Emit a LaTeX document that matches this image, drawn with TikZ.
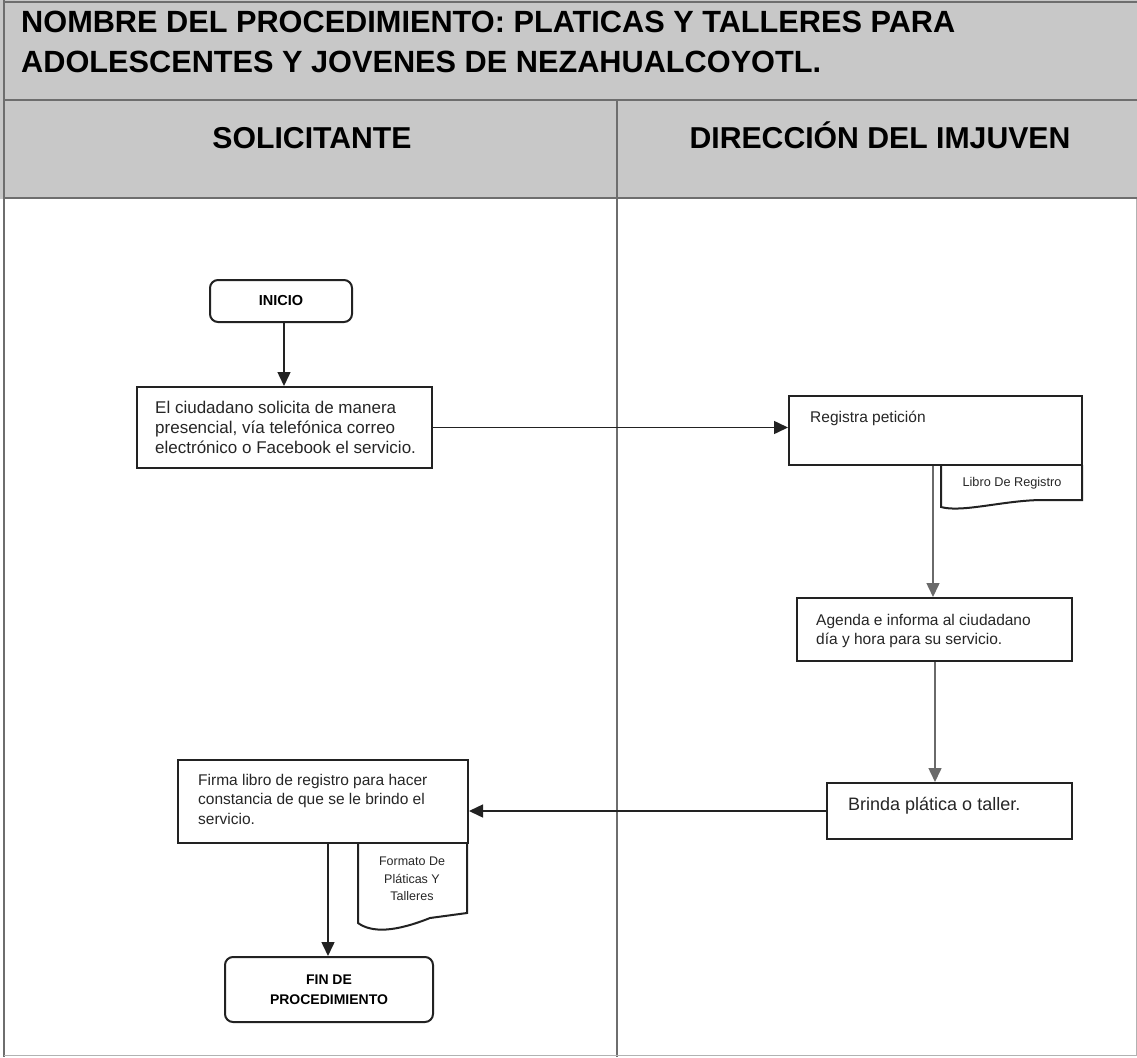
\documentclass[tikz,border=0pt]{standalone}
\usepackage{fontspec}
\setmainfont{Liberation Sans}
\usetikzlibrary{arrows.meta,calc}
\definecolor{hdrgray}{HTML}{C8C8C8}
\definecolor{rulegray}{HTML}{6E6E6E}
\definecolor{inkdark}{HTML}{222222}
\definecolor{flowgray}{HTML}{6A6A6A}
\tikzset{
  procbox/.style={draw=inkdark, line width=2pt, fill=white, inner sep=0pt},
  termbox/.style={procbox, rounded corners=8pt},
  doctext/.style={font=\fontsize{12.7}{17}\selectfont, align=center, inner sep=0pt, text=black!85},
  bodytext/.style={font=\fontsize{15.5}{19.5}\selectfont, align=left, inner sep=0pt, anchor=north west, text=black!85},
  flow/.style={draw=inkdark, line width=1.5pt, -{Triangle[length=14pt,width=13pt]}},
  flowlight/.style={flow, draw=flowgray},
  docline/.style={draw=inkdark, line width=2pt},
}
\begin{document}
\begin{tikzpicture}[x=1pt,y=-1pt]
\useasboundingbox (0,0) rectangle (1137,1057);

% header band and lane titles
\fill[hdrgray] (0,0) rectangle (1137,199);
\draw[rulegray, line width=1.2pt] (4,2) -- (1137,2);
\draw[rulegray, line width=2pt] (4,100) -- (1137,100);
\draw[rulegray, line width=2pt] (4,198) -- (1137,198);
\draw[rulegray, line width=1.5pt] (4,0) -- (4,1057);
\draw[rulegray, line width=1.5pt] (617,100) -- (617,1057);
\draw[black!30, line width=1pt] (4,1055) -- (1137,1055);
\draw[black!30, line width=1pt] (1136,199) -- (1136,1055);

\node[font=\fontsize{30.7}{40}\bfseries, anchor=base west, inner sep=0pt] (titleA) at (21,33)
  {NOMBRE DEL PROCEDIMIENTO: PLATICAS Y TALLERES PARA};
\node[font=\fontsize{30.7}{40}\bfseries, anchor=base west, inner sep=0pt] (titleB) at (21,73)
  {ADOLESCENTES Y JOVENES DE NEZAHUALCOYOTL.};
\node[font=\fontsize{30.2}{40}\bfseries, anchor=base, inner sep=0pt] (laneA) at (312,148) {SOLICITANTE};
\node[font=\fontsize{30.2}{40}\bfseries, anchor=base, inner sep=0pt] (laneB) at (880,148) {DIRECCIÓN DEL IMJUVEN};

% flow boxes
\node[termbox, minimum width=142pt, minimum height=42pt] (inicio) at (281,301) {};
\node[font=\fontsize{14.5}{18}\bfseries, inner sep=0pt] (inicioT) at (281,301) {INICIO};

\node[procbox, minimum width=295pt, minimum height=81pt] (solicita) at (284.5,427.5) {};
\node[bodytext, font=\fontsize{17}{19.8}\selectfont] (solicitaT) at (155,401)
  {El ciudadano solicita de manera\\presencial, vía telefónica correo\\electrónico o Facebook el servicio.};

\node[procbox, minimum width=293pt, minimum height=69pt] (registra) at (935.5,430.5) {};
\node[bodytext] (registraT) at (810,411) {Registra petición};

\node[procbox, minimum width=275pt, minimum height=63pt] (agenda) at (934.5,629.5) {};
\node[bodytext] (agendaT) at (816,614) {Agenda e informa al ciudadano\\día y hora para su servicio.};

\node[procbox, minimum width=245pt, minimum height=56pt] (brinda) at (949.5,811) {};
\node[bodytext, font=\fontsize{18}{22}\selectfont] (brindaT) at (848,797) {Brinda plática o taller.};

\node[procbox, minimum width=290pt, minimum height=83pt] (firma) at (323,801.5) {};
\node[bodytext] (firmaT) at (198,774)
  {Firma libro de registro para hacer\\constancia de que se le brindo el\\servicio.};

\node[termbox, minimum width=208pt, minimum height=65pt] (fin) at (329,989.5) {};
\node[font=\fontsize{14}{20}\bfseries, align=center, inner sep=0pt] (finT) at (329,990)
  {FIN DE\\PROCEDIMIENTO};

% documents attached below their boxes
\draw[docline] (941,465) -- (941,507) .. controls (962,513) and (1005,500) .. (1043,500) -- (1082,500) -- (1082,465);
\node[doctext] (libro) at (1012,483) {Libro De Registro};

\draw[docline] (358,843) -- (358,923) .. controls (372,933) and (395,932) .. (430,918) -- (467,913) -- (467,843);
\node[doctext, font=\fontsize{12.5}{17.5}\selectfont] (formato) at (412,879) {Formato De\\Pláticas Y\\Talleres};

% connectors
\draw[flow] (inicio.south -| 284,0) -- (284,0 |- solicita.north);
\draw[flow] (solicita.east) -- (solicita.east -| registra.west);
\draw[flowlight] (933,0 |- registra.south) -- (933,0 |- agenda.north);
\draw[flowlight] (935,0 |- agenda.south) -- (935,0 |- brinda.north);
\draw[flow] (brinda.west) -- (brinda.west -| firma.east);
\draw[flow] (328,0 |- firma.south) -- (328,0 |- fin.north);
\end{tikzpicture}
\end{document}
